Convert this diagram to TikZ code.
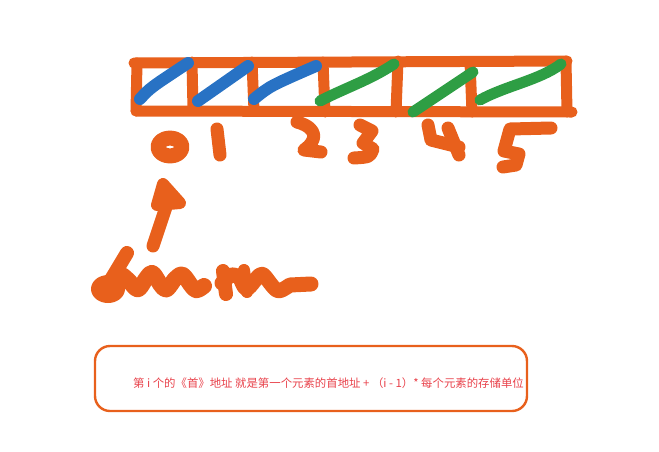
\documentclass[tikz,border=0pt]{standalone}
\usepackage{fontspec}
\newfontfamily\cjk{Noto Sans CJK SC}
\usetikzlibrary{positioning}
\definecolor{narancs}{HTML}{E8601C}
\definecolor{kek}{HTML}{2872C4}
\definecolor{zold}{HTML}{2E9E44}
\definecolor{piros}{HTML}{E8414A}
\tikzset{
  toll/.style={line width=11pt,line cap=round,line join=round,narancs},
  kekvonal/.style={line width=12pt,line cap=round,kek},
  zoldvonal/.style={line width=11pt,line cap=round,zold},
  szam/.style={line width=13pt,line cap=round,line join=round,narancs},
  doboz/.style={draw=narancs,line width=2.4pt,rounded corners=15pt},
}

\begin{document}
\begin{tikzpicture}[x=1pt,y=-1pt]
  \useasboundingbox (0,0) rectangle (659,451);
  % array cells
  \draw[toll] (134,63) -- (567,61);
  \draw[toll] (136,111) -- (572,112);
  \draw[toll] (137,63) -- (136,111);
  \draw[toll] (192,62) -- (193,110);
  \draw[toll] (252,62) -- (254,111);
  \draw[toll] (323,62) -- (325,112);
  \draw[toll] (398,61) -- (396,112);
  \draw[toll] (470,62) -- (472,112);
  \draw[toll] (566,61) -- (567,112);
  % strokes in the cells
  \draw[kekvonal] (140,99) .. controls (150,88) .. (188,63);
  \draw[kekvonal] (198,101) -- (248,66);
  \draw[kekvonal] (254,99) .. controls (270,86) .. (316,66);
  \draw[zoldvonal] (320,101) .. controls (345,88) and (370,80) .. (394,64);
  \draw[zoldvonal] (413,112) -- (473,72);
  \draw[zoldvonal] (480,100) .. controls (505,86) and (540,80) .. (561,64);
  % indices 0..5
  \draw[szam,line width=15pt] (170,147) ellipse [x radius=12,y radius=9];
  \draw[szam] (217,129) -- (220,155);
  \draw[szam] (297,122) .. controls (318,128) and (318,140) .. (304,150) -- (321,152);
  \draw[szam] (360,125) -- (372,131) -- (363,143) -- (373,149) .. controls (370,157) .. (354,158);
  \draw[szam] (428,125) -- (431,140) -- (459,147);
  \draw[szam] (448,128) -- (459,155);
  \draw[szam] (551,128) -- (510,129) -- (504,151) -- (519,154) -- (516,165) -- (503,167);
  % arrow
  \draw[szam] (153,246) -- (166,207);
  \fill[narancs,draw=narancs,line width=12pt,line join=round] (163,184) -- (180,203) -- (157,205) -- cycle;
  % scribble
  \draw[toll,line width=14pt] (127,253) -- (112,278);
  \fill[narancs] (108,289) ellipse [x radius=17,y radius=14];
  \draw[toll,line width=16pt] (110,282) .. controls (120,272) .. (130,282)
    .. controls (138,292) .. (145,280) .. controls (152,270) .. (160,284)
    .. controls (166,292) .. (174,280) .. controls (182,272) .. (190,284)
    .. controls (196,292) .. (204,286);
  \draw[toll,line width=14pt] (223,271) -- (226,294);
  \draw[toll,line width=15pt] (222,283) .. controls (232,273) .. (240,278)
    .. controls (246,292) .. (256,279) .. controls (262,272) .. (270,283)
    .. controls (278,293) .. (290,285) -- (311,284);
  \draw[toll,line width=12pt] (244,270) -- (247,292);
  % formula box
  \draw[doboz] (95,346) rectangle (527,411);
  \node[piros,font=\cjk\fontsize{11.4}{13}\selectfont,anchor=west,inner sep=0pt] (keplet) at (133,383)
    {第 i 个的《首》地址 就是第一个元素的首地址 + （i - 1）* 每个元素的存储单位};
\end{tikzpicture}
\end{document}
